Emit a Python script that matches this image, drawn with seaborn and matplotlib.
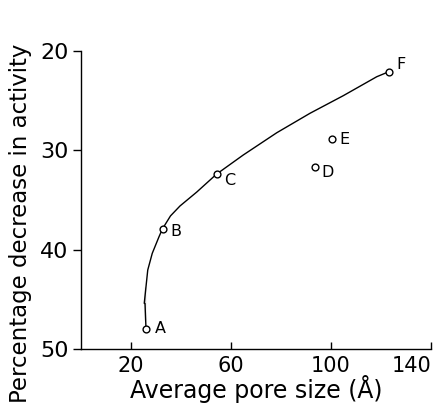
import matplotlib
matplotlib.use("Agg")
import matplotlib.pyplot as plt
import seaborn as sns
import pandas as pd

# Measured points
labels = ["A", "B", "C", "D", "E", "F"]
pore_size = [26.0, 32.6, 54.2, 93.7, 100.5, 123.0]
decrease = [47.95, 37.9, 32.4, 31.7, 28.9, 22.1]

# Hand-drawn curve
curve_x = [26.0, 25.6, 25.3, 25.6, 26.7, 28.5, 31.2, 32.6, 35.8, 39.6, 46.3, 54.2,
           64.9, 78.3, 91.6, 104.9, 118.3, 123.0]
curve_y = [47.95, 47.1, 45.4, 43.74, 42.05, 40.37, 38.7, 37.9, 36.6, 35.6, 34.2, 32.4,
           30.47, 28.23, 26.27, 24.5, 22.59, 22.1]

# Label offsets in pixels (style)
label_offsets = {"A": (14, 0), "B": (13, -3), "C": (13, -6), "D": (12, -5), "E": (12, 0), "F": (12, 7)}

x_ticks = [20, 60, 100, 140]
y_ticks = [20, 30, 40, 50]

sns.set_style("ticks")
plt.rcParams['font.family'] = ['DejaVu Sans']
plt.rcParams['text.color'] = 'black'
plt.rcParams['axes.labelcolor'] = 'black'
plt.rcParams['xtick.color'] = 'black'
plt.rcParams['ytick.color'] = 'black'

fig = plt.figure(figsize=(4.47, 4.07), dpi=100)
ax = fig.add_axes([81/447, 1-349/407, 350/447, 298/407])

curve_df = pd.DataFrame({"x": curve_x, "y": curve_y})
pts_df = pd.DataFrame({"x": pore_size, "y": decrease, "label": labels})

sns.lineplot(data=curve_df, x="x", y="y", sort=False, color="black", linewidth=1.0, ax=ax)
sns.scatterplot(data=pts_df, x="x", y="y", marker="o", s=24, facecolor="white",
                edgecolor="black", linewidth=1.0, zorder=3, ax=ax)

for lab, xv, yv in zip(labels, pore_size, decrease):
    dx, dy = label_offsets[lab]
    ax.annotate(lab, (xv, yv), xytext=(dx, dy), textcoords="offset pixels",
                ha="center", va="center", fontsize=11.5, color="black")

ax.set_xlim(0, 140)
ax.set_ylim(50, 20)
ax.set_xticks(x_ticks)
ax.set_yticks(y_ticks)
ax.set_xticklabels([str(v) for v in x_ticks], fontsize=15)
ax.set_yticklabels([str(v) for v in y_ticks], fontsize=16)
ax.tick_params(axis="x", direction="in", length=5, width=1, pad=5)
ax.tick_params(axis="y", direction="out", length=6, width=1, pad=3)
xtl = ax.get_xticklabels()
xtl[-1].set_horizontalalignment("right")
sns.despine(ax=ax)
for side in ("left", "bottom"):
    ax.spines[side].set_linewidth(1)
    ax.spines[side].set_color("black")

ax.set_xlabel("Average pore size (Å)", fontsize=17)
ax.xaxis.set_label_coords(0.5, -0.088)
ax.set_ylabel("Percentage decrease in activity", fontsize=16.5)
ax.yaxis.set_label_coords(-0.14, 0.423)

fig.savefig("out.png", dpi=100)
